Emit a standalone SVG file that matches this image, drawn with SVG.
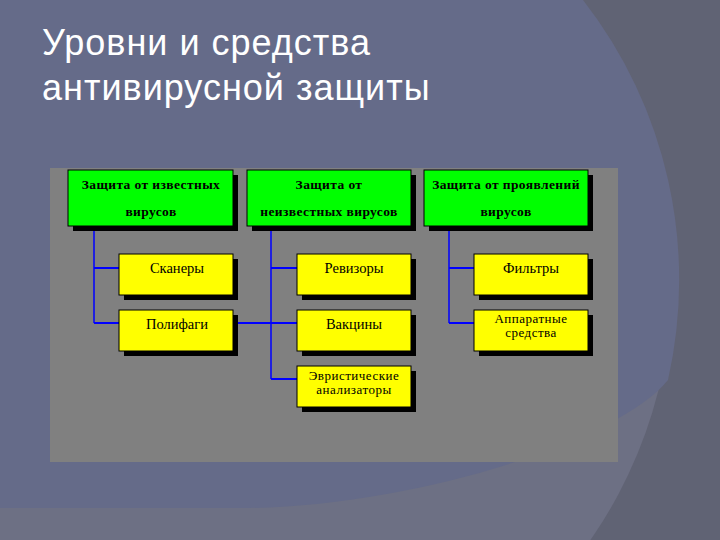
<svg xmlns="http://www.w3.org/2000/svg" width="720" height="540" viewBox="0 0 720 540">
<style>
.title{font-family:"Liberation Sans",Arial,sans-serif;font-size:36px;letter-spacing:1px;fill:#ffffff}
.box{stroke:#000;stroke-width:1}
.g{fill:#00ff00}
.y{fill:#ffff00}
.sh{fill:#000}
.t{font-family:"Liberation Serif","Times New Roman",serif;fill:#000;text-anchor:middle}
.tg{font-size:13.5px;font-weight:bold;letter-spacing:0.4px}
.ty{font-size:14.5px}
.ty2{font-size:13px;letter-spacing:0.5px}
.c{stroke:#0000ff;stroke-width:1.5;fill:none}
.ch{stroke:#0000ff;stroke-width:2;fill:none}
</style>
<rect width="720" height="540" fill="#606374"/>
<circle cx="217" cy="280" r="455" fill="#6d7084"/>
<path d="M0,0 H583 A455,455 0 0 1 668,380 C620,440 420,505 250,508 L0,508 Z" fill="#656b89"/>
<text class="title" x="42" y="55">Уровни и средства</text>
<text class="title" x="42" y="100">антивирусной защиты</text>
<rect x="50" y="168" width="568" height="294" fill="#808080"/>
<g id="connectors">
<line class="c" x1="94" y1="226" x2="94" y2="323"/>
<line class="ch" x1="94" y1="268" x2="119" y2="268"/>
<line class="ch" x1="94" y1="323" x2="119" y2="323"/>
<line class="c" x1="271" y1="226" x2="271" y2="379"/>
<line class="ch" x1="271" y1="268" x2="297" y2="268"/>
<line class="ch" x1="238" y1="323" x2="297" y2="323"/>
<line class="ch" x1="271" y1="379" x2="297" y2="379"/>
<line class="c" x1="449" y1="226" x2="449" y2="323"/>
<line class="ch" x1="449" y1="268" x2="474" y2="268"/>
<line class="ch" x1="449" y1="323" x2="474" y2="323"/>
</g>
<g id="known">
<rect class="sh" x="73" y="175" width="165" height="56"/>
<rect class="box g" x="68" y="170" width="165" height="56"/>
<text class="t tg" x="151" y="189">Защита от известных</text>
<text class="t tg" x="151" y="216">вирусов</text>
</g>
<g id="unknown">
<rect class="sh" x="252" y="175" width="164" height="56"/>
<rect class="box g" x="247" y="170" width="164" height="56"/>
<text class="t tg" x="329" y="189">Защита от</text>
<text class="t tg" x="329" y="216">неизвестных вирусов</text>
</g>
<g id="manifest">
<rect class="sh" x="429" y="175" width="164" height="56"/>
<rect class="box g" x="424" y="170" width="164" height="56"/>
<text class="t tg" x="506" y="189">Защита от проявлений</text>
<text class="t tg" x="506" y="216">вирусов</text>
</g>
<g id="scanners">
<rect class="sh" x="124" y="259" width="114" height="41"/>
<rect class="box y" x="119" y="254" width="114" height="41"/>
<text class="t ty" x="177" y="273">Сканеры</text>
</g>
<g id="polyphages">
<rect class="sh" x="124" y="315" width="114" height="41"/>
<rect class="box y" x="119" y="310" width="114" height="41"/>
<text class="t ty" x="177" y="329">Полифаги</text>
</g>
<g id="revisors">
<rect class="sh" x="302" y="259" width="114" height="41"/>
<rect class="box y" x="297" y="254" width="114" height="41"/>
<text class="t ty" x="354" y="273">Ревизоры</text>
</g>
<g id="vaccines">
<rect class="sh" x="302" y="315" width="114" height="41"/>
<rect class="box y" x="297" y="310" width="114" height="41"/>
<text class="t ty" x="354" y="329">Вакцины</text>
</g>
<g id="heuristic">
<rect class="sh" x="302" y="371" width="114" height="41"/>
<rect class="box y" x="297" y="366" width="114" height="41"/>
<text class="t ty2" x="354" y="380">Эвристические</text>
<text class="t ty2" x="354" y="394">анализаторы</text>
</g>
<g id="filters">
<rect class="sh" x="479" y="259" width="114" height="41"/>
<rect class="box y" x="474" y="254" width="114" height="41"/>
<text class="t ty" x="531" y="273">Фильтры</text>
</g>
<g id="hardware">
<rect class="sh" x="479" y="315" width="114" height="41"/>
<rect class="box y" x="474" y="310" width="114" height="41"/>
<text class="t ty2" x="531" y="323">Аппаратные</text>
<text class="t ty2" x="531" y="337">средства</text>
</g>
</svg>
